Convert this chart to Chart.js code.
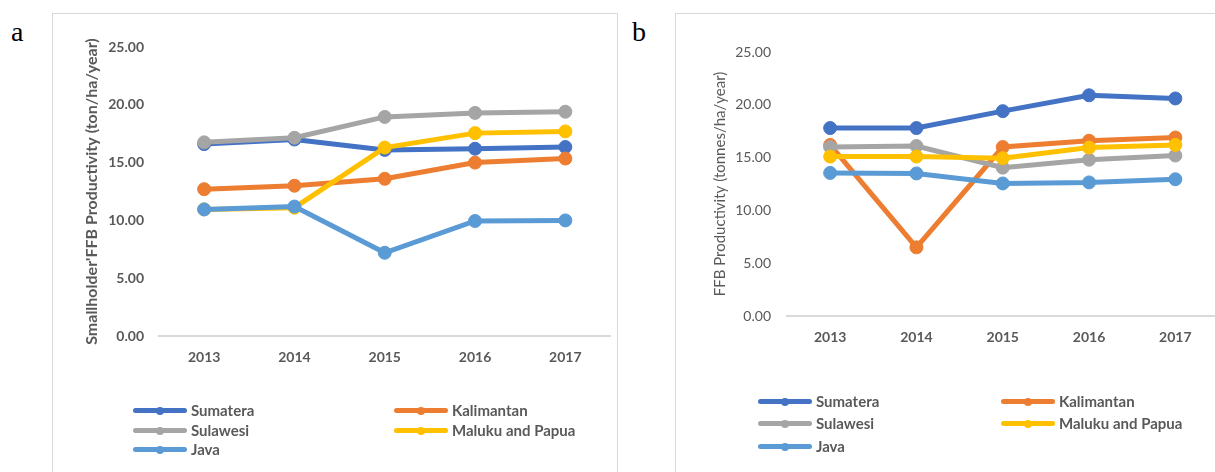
<!DOCTYPE html>
<html>
<head>
<meta charset="utf-8">
<script src="https://cdn.jsdelivr.net/npm/chart.js@4"></script>
<style>
  html, body { margin: 0; padding: 0; background: #fff; overflow: hidden; width: 1215px; height: 472px; }
  .panel { position: absolute; top: 13px; border: 1.5px solid #d9d9d9; box-sizing: border-box; height: 500px; }
  .letter { position: absolute; font-family: "Liberation Serif", "Times New Roman", serif; font-size: 28px; color: #000; }
  canvas { position: absolute; }
  .legend { position: absolute; font-family: Lato, "Liberation Sans", sans-serif; font-weight: bold; font-size: 15px; color: #595959; }
  .item { position: absolute; height: 16px; white-space: nowrap; }
  .item .ln { position: absolute; left: 0; top: 5px; width: 54px; height: 5px; border-radius: 3px; }
  .item .dt { position: absolute; left: 23px; top: 3.5px; width: 8px; height: 8px; border-radius: 50%; }
  .item .tx { position: absolute; top: -2px; }
</style>
</head>
<body>
<div class="letter" style="left:11px; top:16px;">a</div>
<div class="letter" style="left:632px; top:16px;">b</div>
<div class="panel" style="left:52px; width:566px;"></div>
<div class="panel" style="left:675px; width:600px;"></div>
<canvas id="chartA" width="566" height="459" style="left:52px; top:13px;"></canvas>
<canvas id="chartB" width="551" height="459" style="left:675px; top:13px;"></canvas>
<div id="legendA" class="legend"></div>
<div id="legendB" class="legend"></div>
<script>
// categories
const years = ['2013', '2014', '2015', '2016', '2017'];
const regions = ['Sumatera', 'Kalimantan', 'Sulawesi', 'Maluku and Papua', 'Java'];
const colors = ['#4472C4', '#ED7D31', '#A5A5A5', '#FFC000', '#5B9BD5'];

// panel a - smallholder FFB productivity (ton/ha/year)
const sumateraA   = [16.6, 17.0, 16.1, 16.2, 16.35];
const kalimantanA = [12.7, 13.0, 13.6, 15.0, 15.35];
const sulawesiA   = [16.75, 17.15, 18.95, 19.3, 19.4];
const malukuA     = [10.95, 11.1, 16.3, 17.55, 17.7];
const javaA       = [10.95, 11.2, 7.2, 9.95, 10.0];

// panel b - FFB productivity (tonnes/ha/year)
const sumateraB   = [17.8, 17.8, 19.4, 20.9, 20.6];
const kalimantanB = [16.2, 6.5, 16.0, 16.6, 16.9];
const sulawesiB   = [16.0, 16.1, 14.05, 14.8, 15.2];
const malukuB     = [15.1, 15.1, 14.95, 15.95, 16.2];
const javaB       = [13.55, 13.5, 12.55, 12.65, 12.95];

// y axis ticks
const yTicks = [0, 5, 10, 15, 20, 25];

const tickColor = '#595959';

function makeDatasets(series) {
    return series.map((data, i) => ({
        label: regions[i],
        data: data,
        borderColor: colors[i],
        backgroundColor: colors[i],
        pointBackgroundColor: colors[i],
        pointBorderColor: colors[i],
        borderWidth: 5,
        pointRadius: 6.5,
        pointBorderWidth: 1,
        tension: 0,
        order: 4 - i // later series on top, like the original
    }));
}

function makeChart(id, series, opts) {
    return new Chart(document.getElementById(id), {
        type: 'line',
        data: { labels: years, datasets: makeDatasets(series) },
        options: {
            responsive: false,
            animation: false,
            layout: { padding: { top: opts.top, right: 0, left: 0, bottom: opts.bottom } },
            plugins: { legend: { display: false }, tooltip: { enabled: false } },
            scales: {
                x: {
                    offset: true,
                    grid: { display: false, drawTicks: false },
                    border: { display: true, color: '#d9d9d9', width: 2 },
                    ticks: {
                        color: tickColor,
                        padding: 13,
                        font: { family: 'Lato', size: 14, weight: 'bold' }
                    },
                    afterFit: function(scale) { scale.height = 40; }
                },
                y: {
                    min: 0,
                    max: 25,
                    afterBuildTicks: function(scale) {
                        scale.ticks = yTicks.map(v => ({ value: v }));
                    },
                    grid: { display: false, drawTicks: false },
                    border: { display: false },
                    ticks: {
                        color: tickColor,
                        padding: opts.tickPad,
                        font: { family: 'Lato', size: 14, weight: opts.tickWeight },
                        callback: function(value) { return value.toFixed(2); }
                    },
                    title: {
                        display: true,
                        text: opts.title,
                        color: tickColor,
                        padding: { top: opts.titlePad, bottom: 0 },
                        font: { family: 'Lato', size: opts.titleSize, weight: opts.titleWeight }
                    },
                    afterFit: function(scale) { scale.width = opts.yWidth; }
                }
            }
        }
    });
}

makeChart('chartA', [sumateraA, kalimantanA, sulawesiA, malukuA, javaA], {
    top: 34, bottom: 96, yWidth: 107, tickPad: 15, tickWeight: 'bold', titlePad: 30,
    titleSize: 16, titleWeight: 'bold', title: "Smallholder'FFB Productivity (ton/ha/year)"
});

makeChart('chartB', [sumateraB, kalimantanB, sulawesiB, malukuB, javaB], {
    top: 39, bottom: 116, yWidth: 112, tickPad: 16, tickWeight: 'normal', titlePad: 36,
    titleSize: 15, titleWeight: 'normal', title: 'FFB Productivity (tonnes/ha/year)'
});

// legend in two columns, as in the original
function buildLegend(id, x0, x1, rowsY) {
    const el = document.getElementById(id);
    const slots = [[x0, rowsY[0]], [x1, rowsY[0]], [x0, rowsY[1]], [x1, rowsY[1]], [x0, rowsY[2]]];
    regions.forEach((name, i) => {
        const it = document.createElement('div');
        it.className = 'item';
        it.style.left = slots[i][0] + 'px';
        it.style.top = (slots[i][1] - 8) + 'px';
        it.innerHTML = '<div class="ln" style="background:' + colors[i] + '"></div>' +
            '<div class="dt" style="background:' + colors[i] + '"></div>' +
            '<div class="tx" style="left:58px">' + name + '</div>';
        el.appendChild(it);
    });
}
buildLegend('legendA', 133, 394, [411, 431, 450]);
buildLegend('legendB', 758, 1001, [402, 424, 447]);
</script>
</body>
</html>
